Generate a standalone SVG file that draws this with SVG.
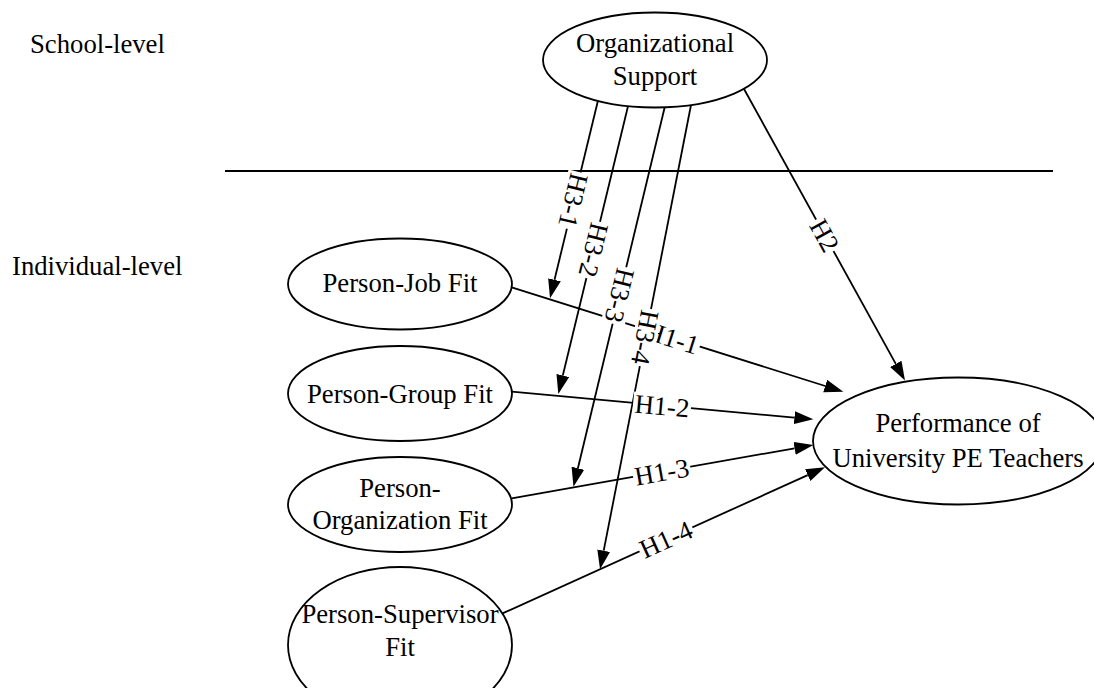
<svg xmlns="http://www.w3.org/2000/svg" width="1094" height="688" viewBox="0 0 1094 688">
<defs>
<marker id="ah" markerUnits="userSpaceOnUse" markerWidth="20" markerHeight="14" refX="0" refY="6.5" orient="auto">
<path d="M0,0 L19,6.5 L0,13 Z" fill="#000"/>
</marker>
<style>
.t{font-family:"Liberation Serif","Times New Roman",serif;font-size:26.7px;fill:#000;text-anchor:middle}
.tl{font-family:"Liberation Serif","Times New Roman",serif;font-size:26.7px;fill:#000}
.n{fill:#fff;stroke:#000;stroke-width:1.8}
.e{fill:none;stroke:#000;stroke-width:1.8}
.ea{fill:none;stroke:#000;stroke-width:1.8;marker-end:url(#ah)}
.lb{fill:#fff}
</style>
</defs>
<rect width="1094" height="688" fill="#fff"/>
<text class="tl" x="30" y="53">School-level</text>
<text class="tl" x="12" y="275">Individual-level</text>
<line class="e" x1="225" y1="171" x2="1053" y2="171"/>
<g id="connectors">
<line class="ea" x1="597.7" y1="101.7" x2="554.5" y2="279.8"/>
<line class="ea" x1="628.3" y1="105" x2="562.8" y2="375.5"/>
<line class="ea" x1="665" y1="106" x2="577.9" y2="468.2"/>
<line class="ea" x1="691" y1="105" x2="603.7" y2="550.7"/>
<line class="ea" x1="744" y1="89" x2="895.8" y2="363.9"/>
<line class="ea" x1="511.7" y1="287.3" x2="825.2" y2="386"/>
<line class="ea" x1="511.7" y1="391.7" x2="794.4" y2="417.6"/>
<line class="ea" x1="511.7" y1="498.3" x2="794.6" y2="448.3"/>
<line class="ea" x1="502.5" y1="613.4" x2="807.7" y2="475.1"/>
<g transform="translate(824.5,235.5) rotate(61.05)"><rect class="lb" x="-18" y="-12" width="36" height="24"/><text class="t" y="9">H2</text></g>
<g transform="translate(672,338) rotate(17.5)"><rect class="lb" x="-29" y="-12" width="58" height="24"/><text class="t" y="9">H1-1</text></g>
<g transform="translate(662,406) rotate(5.2)"><rect class="lb" x="-29" y="-12" width="58" height="24"/><text class="t" y="9">H1-2</text></g>
<g transform="translate(661.7,472) rotate(-10)"><rect class="lb" x="-29" y="-12" width="58" height="24"/><text class="t" y="9">H1-3</text></g>
<g transform="translate(666,539.5) rotate(-24.4)"><rect class="lb" x="-29" y="-12" width="58" height="24"/><text class="t" y="9">H1-4</text></g>
<g transform="translate(573.4,200.5) rotate(103.6)"><rect class="lb" x="-29" y="-12" width="58" height="24"/><text class="t" y="9">H3-1</text></g>
<g transform="translate(593.5,250) rotate(103.7)"><rect class="lb" x="-29" y="-12" width="58" height="24"/><text class="t" y="9">H3-2</text></g>
<g transform="translate(619.5,295.5) rotate(103.5)"><rect class="lb" x="-29" y="-12" width="58" height="24"/><text class="t" y="9">H3-3</text></g>
<g transform="translate(645,337.5) rotate(101.1)"><rect class="lb" x="-29" y="-12" width="58" height="24"/><text class="t" y="9">H3-4</text></g>
</g>
<g id="org-support">
<ellipse class="n" cx="655" cy="60" rx="112" ry="47.5"/>
<text class="t" x="655" y="52">Organizational</text>
<text class="t" x="655" y="85">Support</text>
</g>
<g id="person-job">
<ellipse class="n" cx="400" cy="284" rx="112" ry="45.5"/>
<text class="t" x="400" y="292">Person-Job Fit</text>
</g>
<g id="person-group">
<ellipse class="n" cx="400" cy="393.5" rx="112" ry="47.5"/>
<text class="t" x="400" y="402.5">Person-Group Fit</text>
</g>
<g id="person-organization">
<ellipse class="n" cx="400" cy="504.5" rx="112" ry="47.5"/>
<text class="t" x="400" y="496.7">Person-</text>
<text class="t" x="400" y="529.3">Organization Fit</text>
</g>
<g id="person-supervisor">
<ellipse class="n" cx="400" cy="645" rx="112" ry="78"/>
<text class="t" x="400" y="623">Person-Supervisor</text>
<text class="t" x="400" y="656">Fit</text>
</g>
<g id="performance">
<ellipse class="n" cx="958" cy="441" rx="145" ry="63.5"/>
<text class="t" x="958" y="432">Performance of</text>
<text class="t" x="958" y="467">University PE Teachers</text>
</g>
</svg>
